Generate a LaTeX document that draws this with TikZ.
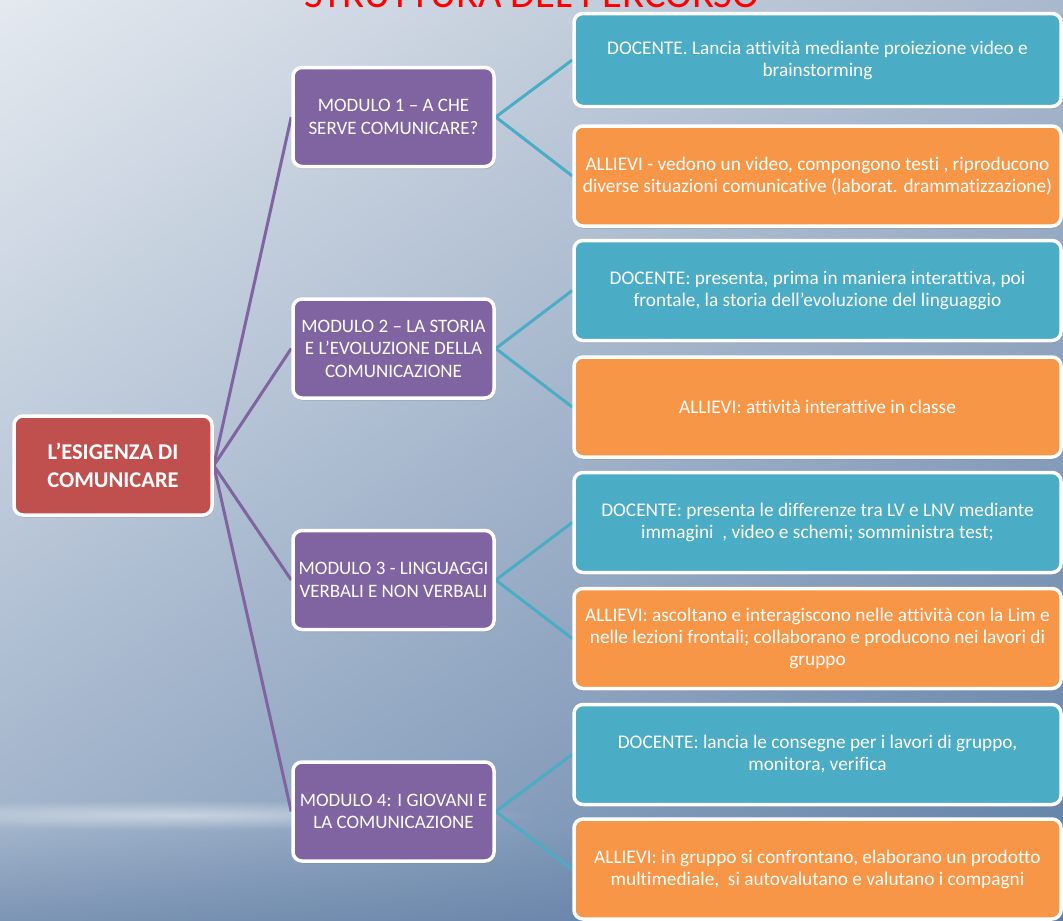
\documentclass[tikz,border=0pt]{standalone}
\usepackage{fontspec}
\setmainfont{Carlito}[Ligatures=NoCommon]
\usetikzlibrary{shadows,fadings,shadings,backgrounds}
\definecolor{bgTL}{HTML}{E4E9EF}
\definecolor{bgTR}{HTML}{A9B8CC}
\definecolor{bgBL}{HTML}{9AAEC7}
\definecolor{bgBR}{HTML}{5F7EA6}
\definecolor{bgDark}{HTML}{5A789F}
\definecolor{rootred}{HTML}{C0504D}
\definecolor{modpurple}{HTML}{8064A2}
\definecolor{docteal}{HTML}{4BACC6}
\definecolor{allorange}{HTML}{F79646}
\definecolor{titlered}{HTML}{FF0000}
\tikzfading[name=softglow, inner color=transparent!15, outer color=transparent!100]
\tikzfading[name=fadeup, top color=transparent!100, bottom color=transparent!0]
\begin{document}
\begin{tikzpicture}[x=1pt,y=-1pt,
  box/.style={draw=white, line width=3.5pt, rounded corners=9pt, text=white, align=center, inner sep=2pt,
    drop shadow={opacity=0.35, shadow xshift=1pt, shadow yshift=-2.5pt}},
  rootbox/.style={box, fill=rootred, minimum width=198pt, minimum height=99pt,
    font=\fontsize{22.5}{28}\selectfont\bfseries},
  modbox/.style={box, fill=modpurple, minimum width=201pt, minimum height=99pt,
    font=\fontsize{19}{22.5}\selectfont},
  docbox/.style={box, fill=docteal, minimum width=487pt, minimum height=100pt,
    font=\fontsize{19.3}{22}\selectfont},
  allbox/.style={box, fill=allorange, minimum width=487pt, minimum height=100pt,
    font=\fontsize{19.3}{22}\selectfont},
  purpleline/.style={draw=modpurple, line width=3pt},
  tealline/.style={draw=docteal, line width=3pt}]
\useasboundingbox (0,0) rectangle (1063,921);
% nodes
\node[rootbox] (root) at (113,465.5) {L’ESIGENZA DI\\COMUNICARE};
\node[modbox] (m1) at (393.5,117) {MODULO 1 – A CHE\\SERVE COMUNICARE?};
\node[modbox] (m2) at (393.5,348.5) {MODULO 2 – LA STORIA\\E L’EVOLUZIONE DELLA\\COMUNICAZIONE};
\node[modbox] (m3) at (393.5,580) {MODULO 3 - LINGUAGGI\\VERBALI E NON VERBALI};
\node[modbox] (m4) at (393.5,811.5) {MODULO 4: I GIOVANI E\\LA COMUNICAZIONE};
\node[docbox, minimum height=93pt] (d1) at (817.5,60) {DOCENTE. Lancia attività mediante proiezione video e\\brainstorming};
\node[allbox] (a1) at (817.5,176) {ALLIEVI - vedono un video, compongono testi , riproducono\\diverse situazioni comunicative (laborat. drammatizzazione)};
\node[docbox] (d2) at (817.5,290.5) {DOCENTE: presenta, prima in maniera interattiva, poi\\frontale, la storia dell’evoluzione del linguaggio};
\node[allbox] (a2) at (817.5,407) {ALLIEVI: attività interattive in classe};
\node[docbox] (d3) at (817.5,522.5) {DOCENTE: presenta le differenze tra LV e LNV mediante\\immagini\ \ , video e schemi; somministra test;};
\node[allbox] (a3) at (817.5,638.5) {ALLIEVI: ascoltano e interagiscono nelle attività con la Lim e\\nelle lezioni frontali; collaborano e producono nei lavori di\\gruppo};
\node[docbox] (d4) at (817.5,754.5) {DOCENTE: lancia le consegne per i lavori di gruppo,\\monitora, verifica};
\node[allbox] (a4) at (817.5,869) {ALLIEVI: in gruppo si confrontano, elaborano un prodotto\\multimediale,\ \ si autovalutano e valutano i compagni};
\begin{pgfonlayer}{background}
\begin{scope}
\clip (0,0) rectangle (1063,921);
% background
\shade[upper left=bgTL, upper right=bgTR, lower left=bgBL, lower right=bgBR] (0,0) rectangle (1063,921);
\fill[bgDark, opacity=0.45, path fading=fadeup] (0,830) rectangle (1063,921);
\fill[white, opacity=0.55, path fading=softglow] (180,815) ellipse (360 and 15);
% title
\node[anchor=base west, inner sep=0pt, text=titlered, font=\fontsize{40.5}{44}\selectfont] (title) at (304,7) {STRUTTURA DEL PERCORSO};
% connectors
\foreach \m in {m1,m2,m3,m4} \draw[purpleline] (root.east) -- (\m.west);
\draw[tealline] (m1.east) -- (d1.west);
\draw[tealline] (m1.east) -- (a1.west);
\draw[tealline] (m2.east) -- (d2.west);
\draw[tealline] (m2.east) -- (a2.west);
\draw[tealline] (m3.east) -- (d3.west);
\draw[tealline] (m3.east) -- (a3.west);
\draw[tealline] (m4.east) -- (d4.west);
\draw[tealline] (m4.east) -- (a4.west);
\end{scope}
\end{pgfonlayer}
\end{tikzpicture}
\end{document}
